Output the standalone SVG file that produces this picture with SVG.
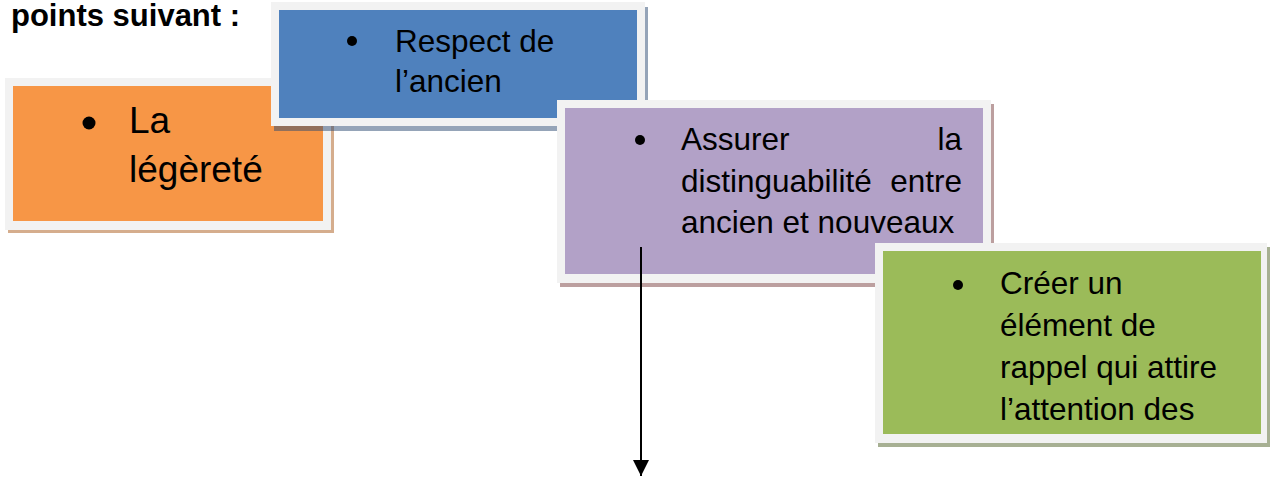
<svg xmlns="http://www.w3.org/2000/svg" width="1271" height="477" viewBox="0 0 1271 477">
  <defs>
    <style>
      .frame { fill: #f2f2f2; }
      .t { font-family: "Liberation Sans", Arial, sans-serif; font-size: 31.5px; fill: #000; }
      .big { font-size: 37px; }
      .title { font-family: "Liberation Sans", Arial, sans-serif; font-size: 31px; font-weight: bold; fill: #000; }
      .dot { fill: #000; }
    </style>
    <marker id="arrow" markerWidth="16" markerHeight="16" refX="16" refY="8" orient="auto" markerUnits="userSpaceOnUse" viewBox="0 0 16 16">
      <path d="M0,0 L16,8 L0,16 Z" fill="#000"/>
    </marker>
  </defs>
  <rect width="1271" height="477" fill="#ffffff"/>

  <text class="title" x="11" y="26">points suivant :</text>

  <g id="node-legerete">
    <rect x="8" y="81" width="326" height="152" fill="#b36a30" fill-opacity="0.55"/>
    <rect class="frame" x="5" y="78" width="326" height="152"/>
    <rect x="13" y="86" width="310" height="135" fill="#f79646"/>
    <circle class="dot" cx="89" cy="123" r="6.5"/>
    <text class="t big" x="129" y="133">La</text>
    <text class="t big" x="129" y="182">légèreté</text>
  </g>

  <g id="node-respect">
    <rect x="274" y="7" width="374" height="124" fill="#2c4a72" fill-opacity="0.5"/>
    <rect class="frame" x="271" y="2" width="374" height="124"/>
    <rect x="279" y="10" width="358" height="108" fill="#4f81bd"/>
    <circle class="dot" cx="352" cy="41" r="5"/>
    <text class="t" x="395" y="52">Respect de</text>
    <text class="t" x="395" y="92">l’ancien</text>
  </g>

  <g id="node-distinguabilite">
    <rect x="560" y="104" width="434" height="183" fill="#7a3f3f" fill-opacity="0.5"/>
    <rect class="frame" x="557" y="100" width="434" height="183"/>
    <rect x="565" y="108" width="418" height="166" fill="#b2a1c7"/>
    <circle class="dot" cx="640" cy="140" r="5"/>
    <text class="t" x="681" y="150">Assurer</text>
    <text class="t" x="962" y="150" text-anchor="end">la</text>
    <text class="t" x="681" y="191.5">distinguabilité</text>
    <text class="t" x="962" y="191.5" text-anchor="end">entre</text>
    <text class="t" x="681" y="233">ancien et nouveaux</text>
  </g>

  <g id="node-rappel">
    <rect x="878" y="247" width="392" height="200" fill="#4f6228" fill-opacity="0.5"/>
    <rect class="frame" x="875" y="243" width="392" height="200"/>
    <rect x="883" y="251" width="378" height="183" fill="#9bbb59"/>
    <circle class="dot" cx="958" cy="285" r="5"/>
    <text class="t" x="1000" y="294">Créer un</text>
    <text class="t" x="1000" y="336">élément de</text>
    <text class="t" x="1000" y="378">rappel qui attire</text>
    <text class="t" x="1000" y="420">l’attention des</text>
  </g>

  <g id="connectors">
    <line x1="641" y1="247" x2="641" y2="476" stroke="#000" stroke-width="2" marker-end="url(#arrow)"/>
  </g>
</svg>
